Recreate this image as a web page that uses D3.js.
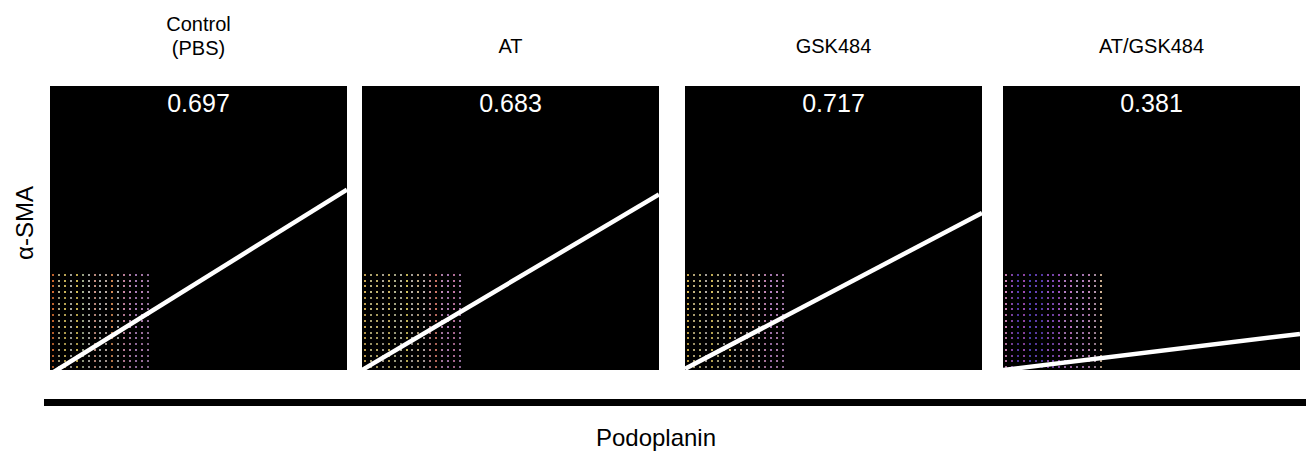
<!DOCTYPE html>
<html>
<head>
<meta charset="utf-8">
<script src="https://cdnjs.cloudflare.com/ajax/libs/d3/7.8.5/d3.min.js"></script>
<style>
  body { margin: 0; background: #fff; }
  svg text { font-family: "Liberation Sans", Arial, Helvetica, sans-serif; }
</style>
</head>
<body>
<svg id="chart" width="1312" height="459"></svg>
<script>
// panel titles (multi-line where needed)
var titles = [["Control", "(PBS)"], ["AT"], ["GSK484"], ["AT/GSK484"]];
// correlation value shown in each panel
var coeffs = ["0.697", "0.683", "0.717", "0.381"];
// fitted line: y (0-1 of panel height) at x = 0 and x = 1
var lineStart = [-0.015, 0.0, 0.004, 0.0];
var lineEnd = [0.635, 0.618, 0.553, 0.127];

// dot grid (17 x 17) colours, per column, left -> right
var colsControl = ["#e07030", "#c0b890", "#d8c060", "#b8b8b0", "#e0c858", "#b0bc98", "#c0c0b8", "#d8a090",
  "#b8b8b8", "#c8b8b0", "#e09058", "#b8b8b8", "#d890b0", "#c890c0", "#b888c8", "#c088c0", "#a880b0"];
var colsAT = ["#e0b858", "#c8c088", "#d0c070", "#c0b8a8", "#d8c068", "#c0c098", "#c8c8b0", "#e0d060",
  "#c0b8b0", "#d0b890", "#c8b8b8", "#d09098", "#e08070", "#c890c0", "#c088c8", "#d080b0", "#b888c0"];
var colsGSK = ["#e8c050", "#d0c088", "#c8c080", "#c0b8b0", "#e0c860", "#c8c090", "#c0c0b8", "#e8c860",
  "#b8b8b8", "#d0b098", "#c8c0c0", "#d89888", "#c8b8c0", "#d090c0", "#c088d0", "#c890c8", "#b888c0"];
var colsATGSK = ["#e090c8", "#9850c0", "#6040c0", "#a850c0", "#5848c8", "#7048c8", "#6040c0", "#a058d0",
  "#8850c8", "#a858d0", "#c088d0", "#c878d0", "#b898c8", "#c088d0", "#d090c8", "#c0a0b8", "#e0c0a0"];
var dotColors = [colsControl, colsAT, colsGSK, colsATGSK];
// per-row brightness of the dots, top -> bottom
var rowLevel = [0.75, 0.8, 0.8, 0.85, 0.75, 0.8, 0.8, 0.9, 0.85, 0.8, 0.9, 0.85, 0.8, 0.95, 0.9, 0.9, 0.85];

var svg = d3.select("#chart");

var panelLeft = [50, 362, 685, 1003];
var panelW = 297, panelTop = 86, panelH = 284;

var x = d3.scaleLinear().domain([0, 1]).range([0, panelW]);
var y = d3.scaleLinear().domain([0, 1]).range([panelH, 0]);

var colBand = d3.scaleBand().domain(d3.range(17)).range([0, 0.34]).paddingInner(0);
var rowBand = d3.scaleBand().domain(d3.range(17)).range([0.345, 0]).paddingInner(0);

titles.forEach(function(t, i) {
  var cx = panelLeft[i] + panelW / 2;
  var lines = t.length == 2 ? [31, 55] : [53];
  t.forEach(function(str, k) {
    svg.append("text")
      .attr("x", cx)
      .attr("y", lines[k])
      .attr("text-anchor", "middle")
      .style("font-size", "20px")
      .text(str);
  });

  var g = svg.append("g").attr("transform", "translate(" + panelLeft[i] + "," + panelTop + ")");

  svg.append("clipPath").attr("id", "clip" + i)
    .append("rect").attr("width", panelW).attr("height", panelH);

  g.append("rect")
    .attr("width", panelW)
    .attr("height", panelH)
    .style("fill", "#000");

  // dots
  var cells = [];
  rowLevel.forEach(function(lv, r) {
    dotColors[i].forEach(function(c, k) {
      cells.push({ col: k, row: 16 - r, color: c, level: lv });
    });
  });
  g.selectAll("rect.dot")
    .data(cells)
    .enter().append("rect")
    .attr("class", "dot")
    .attr("x", function(d) { return Math.round(x(colBand(d.col) + colBand.bandwidth() / 2)) - 1; })
    .attr("y", function(d) { return Math.round(y(rowBand(d.row) + rowBand.bandwidth() / 2)) - 1; })
    .attr("width", 2)
    .attr("height", 2)
    .style("fill", function(d) { return d.color; })
    .style("opacity", function(d) { return d.level; });

  // regression line
  g.append("line")
    .attr("clip-path", "url(#clip" + i + ")")
    .attr("x1", x(0))
    .attr("y1", y(lineStart[i]))
    .attr("x2", x(1))
    .attr("y2", y(lineEnd[i]))
    .style("stroke", "#fff")
    .style("stroke-width", 4.5);

  g.append("text")
    .attr("x", panelW / 2)
    .attr("y", 112 - panelTop)
    .attr("text-anchor", "middle")
    .style("font-size", "25px")
    .style("fill", "#fff")
    .text(coeffs[i]);
});

// y label
svg.append("text")
  .attr("transform", "translate(33,223) rotate(-90)")
  .attr("text-anchor", "middle")
  .style("font-size", "24px")
  .text("\u03b1-SMA");

// x axis bar + label
svg.append("rect")
  .attr("x", 44)
  .attr("y", 399)
  .attr("width", 1262)
  .attr("height", 7)
  .style("fill", "#000");

svg.append("text")
  .attr("x", 656)
  .attr("y", 446)
  .attr("text-anchor", "middle")
  .style("font-size", "24px")
  .text("Podoplanin");
</script>
</body>
</html>
